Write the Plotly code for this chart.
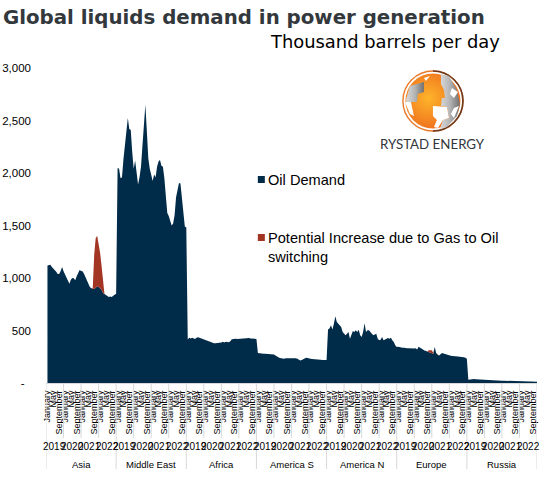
import base64
import plotly.graph_objects as go

regions = ["Asia", "Middle East", "Africa", "America S", "America N", "Europe", "Russia"]
years = ["2019", "2020", "2021", "2022"]
tick_months = ["January", "May", "September"]

asia = [1118,1120,1127,1105,1090,1080,1060,1038,1038,1064,1105,1064,
        1032,1000,968,946,984,1000,997,978,1016,1054,1076,1067,
        1064,1041,1010,978,946,914,902,895,895,908,920,914,
        902,889,857,848,838,832,819,825,819,832,841,850]
middle_east = [2048,2040,1950,1960,2130,2280,2400,2524,2420,2410,2200,2040,
               2120,1980,1890,1960,2060,2260,2520,2651,2400,2140,2040,1990,
               1925,1985,1960,2060,2110,2125,2070,2060,1950,1780,1620,1590,
               1540,1500,1520,1600,1770,1860,1905,1900,1760,1640,1490,1480]
africa = [415,430,425,430,425,420,432,435,430,425,415,410,
          405,405,395,395,385,380,378,378,378,378,380,385,
          392,385,392,390,388,395,415,420,422,422,418,420,
          418,425,425,422,425,430,428,425,425,422,420,420]
america_s = [285,282,280,278,278,278,278,278,278,275,275,272,
             262,250,245,238,235,230,232,235,235,240,240,238,
             238,238,235,232,225,215,218,228,235,240,238,232,
             230,228,228,225,225,225,222,222,220,220,218,218]
america_n = [510,518,550,510,565,635,580,565,550,533,485,463,
             454,470,485,422,470,495,485,502,485,508,454,438,
             485,570,485,502,502,480,470,454,463,470,422,406,
             413,438,406,413,422,428,422,432,406,390,359,343]
europe = [345,340,338,335,335,330,332,330,328,325,330,328,
          330,320,345,335,322,315,310,305,300,298,290,290,
          278,343,285,270,262,275,285,280,275,272,268,262,
          260,258,258,255,255,252,250,250,248,245,240,232]
russia = [32,35,38,40,38,36,35,34,32,30,30,30,
          28,26,25,24,24,24,23,23,22,22,22,22,
          22,22,21,20,18,18,18,18,18,18,18,18,
          17,17,16,16,15,15,15,14,14,14,14,13]
oil_demand = asia + middle_east + africa + america_s + america_n + europe + russia

asia_extra = [0]*31 + [10,330,470,483,420,340,230,80] + [0]*9
europe_extra = [0]*21 + [14,22,22,10] + [0]*23
gas_to_oil = asia_extra + [0]*48*4 + europe_extra + [0]*48

y_ticks = [0, 500, 1000, 1500, 2000, 2500, 3000]
y_labels = ["-\u00a0\u00a0", "500", "1,000", "1,500", "2,000", "2,500", "3,000"]

N = len(oil_demand)
x = list(range(N))
NAVY = "#002B49"
RED = "#A33524"
GRID = "#D9D9D9"
INK = "#000000"

fig = go.Figure()
fig.add_trace(go.Scatter(x=x, y=oil_demand, name="Oil Demand", stackgroup="a", mode="lines",
                         line=dict(width=0), fillcolor=NAVY, showlegend=False))
fig.add_trace(go.Scatter(x=x, y=gas_to_oil, name="Potential Increase due to Gas to Oil switching",
                         stackgroup="a", mode="lines", line=dict(width=0), fillcolor=RED, showlegend=False))

tickvals = list(range(0, N, 4))
ticktext = [tick_months[(i // 4) % 3] for i in tickvals]

PT, PB, PL, PR = 68, 383, 46.3, 537
H = PB - PT
def py(pixel_y):
    return (PB - pixel_y) / H
def px(pixel_x):
    return (pixel_x - PL) / (PR - PL)

annotations = []
shapes = []
for r, region in enumerate(regions):
    annotations.append(dict(x=r*48 + 23, y=py(464), xref="x", yref="paper", text=region, showarrow=False,
                            font=dict(family="Liberation Sans", size=9.5, color=INK), xanchor="center", yanchor="middle"))
    shapes.append(dict(type="line", xref="x", yref="paper", x0=r*48-1, x1=r*48-1, y0=0, y1=py(469),
                       line=dict(color=GRID, width=1)))
    for k, yr in enumerate(years):
        annotations.append(dict(x=r*48 + k*12 + 5, y=py(446), xref="x", yref="paper", text=yr, showarrow=False,
                                font=dict(family="Liberation Sans", size=10, color=INK), xanchor="center", yanchor="middle"))
        if k:
            shapes.append(dict(type="line", xref="x", yref="paper", x0=r*48+k*12-1, x1=r*48+k*12-1,
                               y0=0, y1=py(438), line=dict(color=GRID, width=1)))
shapes.append(dict(type="line", xref="x", yref="paper", x0=N-1, x1=N-1, y0=0, y1=py(469),
                   line=dict(color=GRID, width=1)))

# legend swatches
shapes.append(dict(type="rect", xref="paper", yref="paper", x0=px(258), x1=px(265), y0=py(183), y1=py(176),
                   fillcolor=NAVY, line=dict(width=0)))
shapes.append(dict(type="rect", xref="paper", yref="paper", x0=px(258), x1=px(265), y0=py(241), y1=py(234),
                   fillcolor=RED, line=dict(width=0)))

annotations += [
    dict(x=px(266), y=py(180), xref="paper", yref="paper", text="Oil Demand", showarrow=False, xanchor="left",
         yanchor="middle", font=dict(family="Liberation Sans", size=14.6, color=INK)),
    dict(x=px(266), y=py(228), xref="paper", yref="paper", showarrow=False, xanchor="left", yanchor="top",
         align="left", text="Potential Increase due to Gas to Oil<br>switching",
         font=dict(family="Liberation Sans", size=14.6, color=INK)),
    dict(x=px(1), y=py(18), xref="paper", yref="paper", text="<b>Global liquids demand in power generation</b>",
         showarrow=False, xanchor="left", yanchor="middle",
         font=dict(family="DejaVu Sans", size=19.8, color="#33383D")),
    dict(x=px(502), y=py(41), xref="paper", yref="paper", text="Thousand barrels per day", showarrow=False,
         xanchor="right", yanchor="middle", font=dict(family="DejaVu Sans", size=17.9, color=INK)),
    dict(x=px(433), y=py(144), xref="paper", yref="paper", text="RYSTAD ENERGY", showarrow=False,
         font=dict(family="Lato", size=13.3, color="#33363A"), xanchor="center", yanchor="middle"),
]

logo_svg = """<svg xmlns="http://www.w3.org/2000/svg" viewBox="0 0 62 62" width="62" height="62">
<defs><radialGradient id="o" cx="42%" cy="45%" r="60%"><stop offset="0" stop-color="#FDB42A"/><stop offset="1" stop-color="#EF6E1E"/></radialGradient>
<linearGradient id="g" x1="0" x2="1"><stop offset="0" stop-color="#DADADA"/><stop offset=".5" stop-color="#B4B4B4"/><stop offset="1" stop-color="#707070"/></linearGradient></defs>
<circle cx="31" cy="31" r="30" fill="#fff" stroke="#E97A2B" stroke-width="1.4"/>
<path d="M31 1 A30 30 0 0 1 31 61" fill="none" stroke="#6B3A1E" stroke-width="1.6"/>
<circle cx="31" cy="31" r="27.5" fill="url(#o)"/>
<path d="M8 16 L22 12 L22 22 L16 24 L15 32 L9 32 L7 38 L4 30Z" fill="url(#g)"/>
<path d="M3 32 L9 32 L12 46 L8 44Z" fill="#fff"/>
<path d="M39 4 L47 6 L55 20 L58 34 L55 46 L45 57 L38 59 L41 50 L47 48 L45 37 L39 36 L40 28 L43 28 L42 20 L39 14Z" fill="url(#g)"/>
<path d="M31 36 L45 37 L47 48 L41 50 L36 58 L32 57 L35 50 L31 46Z" fill="#fff"/>
<path d="M50 18 L56 22 L52 28 L48 24Z M52 38 L57 36 L52 48 L49 44Z" fill="#fff"/>
<path d="M22 8 L28 6 L24 11Z" fill="#fff"/>
</svg>"""
logo_uri = "data:image/svg+xml;base64," + base64.b64encode(logo_svg.encode()).decode()

fig.update_layout(
    width=543, height=486, paper_bgcolor="white", plot_bgcolor="white",
    margin=dict(l=PL, r=543-PR, t=PT, b=486-PB, autoexpand=False),
    showlegend=False, annotations=annotations, shapes=shapes,
    images=[dict(source=logo_uri, xref="paper", yref="paper", x=px(402), y=py(70), sizex=62/(PR-PL), sizey=62/H,
                 xanchor="left", yanchor="top", layer="above", sizing="stretch")],
    xaxis=dict(range=[-1, N-1], tickmode="array", tickvals=tickvals, ticktext=ticktext, tickangle=-90,
               tickfont=dict(family="Liberation Sans", size=9, color=INK), showgrid=False, zeroline=False,
               showline=True, linecolor=GRID, ticks="", ticklabelstandoff=3),
    yaxis=dict(range=[0, 3000], tickmode="array", tickvals=y_ticks, ticktext=y_labels, showgrid=False,
               zeroline=False, showline=False, ticks="", ticklabelstandoff=14,
               tickfont=dict(family="Liberation Sans", size=11.5, color=INK)),
)
fig.write_html("out.html", config=dict(displayModeBar=False), post_script="document.body.style.margin='0';")
